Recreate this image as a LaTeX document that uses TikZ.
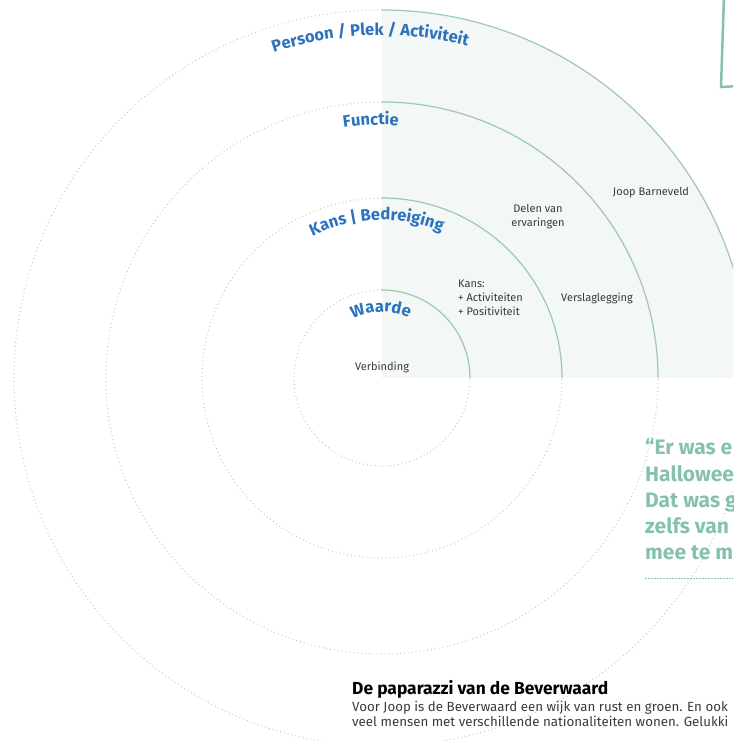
\documentclass[tikz,border=0pt]{standalone}
\usepackage{fontspec}
\setmainfont{Fira Sans}
\usetikzlibrary{decorations.text,positioning}

\definecolor{ringgreen}{HTML}{9CC8B4}
\definecolor{dotgrey}{HTML}{B6CAC5}
\definecolor{quadshade}{HTML}{F3F7F5}
\definecolor{headblue}{HTML}{2B72BE}
\definecolor{quotegreen}{HTML}{86C2AB}
\definecolor{bodytext}{HTML}{3A3A3A}

\newcommand{\headfont}{\fontsize{16.5}{16}\selectfont\bfseries}

\tikzstyle{ringtext} = [font=\fontsize{11}{14}\selectfont, text=bodytext, inner sep=1pt, align=center]
\tikzstyle{solidring} = [draw=ringgreen, line width=1.2pt]
\tikzstyle{dotring} = [draw=dotgrey, line width=1pt, dash pattern=on 0.9pt off 3pt]
\tikzstyle{ringhead} = [decorate, decoration={text along path, text align=center, text color=headblue}]
\tikzstyle{quoteline} = [font=\fontsize{21}{26}\selectfont\bfseries, text=quotegreen, anchor=base west, inner sep=0]
\tikzstyle{bodyline} = [font=\fontsize{13.3}{15}\selectfont, text=bodytext, anchor=base west, inner sep=0]

\begin{document}
\begin{tikzpicture}[x=1pt, y=1pt]
        \useasboundingbox (0,0) rectangle (733,741);
        \clip (0,0) rectangle (733,741);
        \coordinate (c) at (382,363);
        % shaded quarter behind the solid arcs
        \fill[quadshade] (c) -- ([shift={(c)}]0:368) arc[start angle=0, end angle=90, radius=368] -- cycle;
        % rings: dotted part and solid part
        \foreach \r in {88,180,276,368} {
            \draw[dotring] ([shift={(c)}]90:\r) arc[start angle=90, end angle=360, radius=\r];
            \draw[solidring] ([shift={(c)}]0:\r) arc[start angle=0, end angle=90, radius=\r];
        }
        % ring titles
        \path[ringhead, decoration={text={|\headfont|Persoon / Plek / Activiteit}}]
            ([shift={(c)}]115:343) arc[start angle=115, end angle=69, radius=343];
        \path[ringhead, decoration={text={|\headfont|Functie}}]
            ([shift={(c)}]110:253) arc[start angle=110, end angle=75, radius=253];
        \path[ringhead, decoration={text={|\headfont|Kans {\textbar} Bedreiging}}]
            ([shift={(c)}]130:158) arc[start angle=130, end angle=54, radius=158];
        \path[ringhead, decoration={text={|\headfont|Waarde}}]
            ([shift={(c)}]150:66) arc[start angle=150, end angle=32, radius=66];
        % entries in the quarter
        \node (verbinding) at (382,374) [ringtext] {Verbinding};
        \node (kans) at (457,443) [ringtext, anchor=west, align=left] {Kans:\\+ Activiteiten\\+ Positiviteit};
        \node (delen) at (538,524) [ringtext] {Delen van\\ervaringen};
        \node (verslag) at (597,443) [ringtext] {Verslaglegging};
        \node (joop) at (651,548) [ringtext] {Joop Barneveld};
        % box at the top right
        \draw[draw=quotegreen, line width=2.5pt] (724,745) -- (721,654) -- (740,655);
        % quote
        \foreach \t [count=\i] in {“Er was e, Hallowee, Dat was g, zelfs van, mee te m}
            \node (quote\i) [quoteline] at (645,{286-26.2*(\i-1)}) {\t};
        \coordinate (qrule) at (645,162);
        \draw[draw=quotegreen, line width=1pt, dash pattern=on 1.5pt off 1.5pt] (qrule) -- ++(95,0);
        % article text
        \node (title) [bodyline, font=\fontsize{17.4}{18}\selectfont\bfseries, text=black] at (352,46) {De paparazzi van de Beverwaard};
        \node (body1) [bodyline] at (352,29) {Voor Joop is de Beverwaard een wijk van rust en groen. En ook};
        \node (body2) [bodyline] at (352,14) {veel mensen met verschillende nationaliteiten wonen. Gelukki};
    \end{tikzpicture}
\end{document}
